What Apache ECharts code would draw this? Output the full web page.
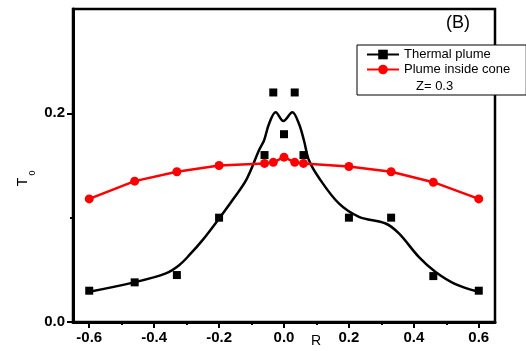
<!DOCTYPE html>
<html>
<head>
<meta charset="utf-8">
<script src="https://cdn.jsdelivr.net/npm/echarts@6/dist/echarts.min.js"></script>
<style>
  html, body { margin: 0; padding: 0; background: #fff; }
  #chart { width: 526px; height: 351px; }
</style>
</head>
<body>
<div id="chart"></div>
<script>
// Radial positions R and measured temperatures T0
const radius = [-0.6, -0.46, -0.33, -0.2, -0.06, -0.033, 0, 0.033, 0.06, 0.2, 0.33, 0.46, 0.6];
const thermalPlume = [0.03, 0.038, 0.045, 0.1, 0.16, 0.22, 0.18, 0.22, 0.16, 0.1, 0.1, 0.044, 0.03];
const plumeInsideCone = [0.118, 0.135, 0.144, 0.150, 0.152, 0.153, 0.158, 0.153, 0.152, 0.149, 0.144, 0.134, 0.118];

// Smoothed fit through the thermal plume measurements
const fitR = [-0.6, -0.462, -0.364, -0.323, -0.292, -0.251, -0.2, -0.159, -0.115, -0.077, -0.0615, -0.046, -0.0255,
              -0.002, 0.0255, 0.046, 0.0615, 0.077, 0.108, 0.169, 0.231, 0.313, 0.354, 0.415, 0.467, 0.528, 0.6];
const fitT = [0.029, 0.038, 0.0466, 0.0545, 0.064, 0.0785, 0.0992, 0.1167, 0.137, 0.1646, 0.174, 0.190, 0.201,
              0.1926, 0.201, 0.190, 0.174, 0.155, 0.138, 0.1136, 0.1008, 0.0944, 0.0849, 0.0625, 0.048, 0.0364, 0.029];

const xMajor = [-0.6, -0.4, -0.2, 0, 0.2, 0.4, 0.6];
const xMinor = [-0.5, -0.3, -0.1, 0.1, 0.3, 0.5];
const yMajor = [0, 0.2];
const yMinor = [0.1];

const zip = (a, b) => a.map((v, i) => [v, b[i]]);
const font = 'Liberation Sans, Arial, sans-serif';
const tickLabel = { color: '#000', fontFamily: font, fontWeight: 'bold', fontSize: 15 };

const chart = echarts.init(document.getElementById('chart'), null, { renderer: 'canvas' });
chart.setOption({
  animation: false,
  backgroundColor: '#fff',
  grid: { left: 73, right: 31, top: 9, bottom: 29, show: true, borderColor: '#000', borderWidth: 2.5 },
  xAxis: [
    {
      type: 'value', min: -0.65, max: 0.65, position: 'bottom',
      axisLine: { onZero: false, lineStyle: { color: '#000', width: 3 } },
      axisTick: { customValues: xMajor, length: 6, lineStyle: { color: '#000', width: 2 } },
      axisLabel: Object.assign({ customValues: xMajor, margin: 8, formatter: v => v.toFixed(1) }, tickLabel),
      splitLine: { show: false }
    },
    {
      type: 'value', min: -0.65, max: 0.65, position: 'bottom', offset: 0,
      axisLine: { show: false, onZero: false },
      axisTick: { customValues: xMinor, length: 3, lineStyle: { color: '#000', width: 2 } },
      axisLabel: { show: false },
      splitLine: { show: false }
    }
  ],
  yAxis: [
    {
      type: 'value', min: 0, max: 0.3, position: 'left',
      axisLine: { show: true, onZero: false, lineStyle: { color: '#000', width: 3 } },
      axisTick: { show: true, customValues: yMajor, length: 6, lineStyle: { color: '#000', width: 2 } },
      axisLabel: Object.assign({ customValues: yMajor, margin: 8, formatter: v => v.toFixed(1) }, tickLabel),
      splitLine: { show: false }
    },
    {
      type: 'value', min: 0, max: 0.3, position: 'left', offset: 0,
      axisLine: { show: false, onZero: false },
      axisTick: { show: true, customValues: yMinor, length: 3, lineStyle: { color: '#000', width: 2 } },
      axisLabel: { show: false },
      splitLine: { show: false }
    }
  ],
  legend: {
    data: ['Thermal plume', 'Plume inside cone'],
    orient: 'vertical', left: 357, top: 45,
    padding: [3, 16, 19, 9], itemGap: 2,
    itemWidth: 32, itemHeight: 12,
    backgroundColor: '#fff', borderColor: '#000', borderWidth: 1, borderRadius: 0,
    textStyle: { color: '#000', fontFamily: font, fontSize: 13 },
    z: 10
  },
  graphic: [
    { type: 'text', left: 446, top: 14, z: 20,
      style: { text: '(B)', fontFamily: font, fontSize: 18, fill: '#000' } },
    { type: 'text', left: 416, top: 80, z: 20,
      style: { text: 'Z= 0.3', fontFamily: font, fontSize: 13, fill: '#000' } },
    { type: 'text', left: 311, top: 334,
      style: { text: 'R', fontFamily: font, fontSize: 14, fill: '#000' } },
    { type: 'text', x: 23, y: 182, rotation: Math.PI / 2,
      style: { text: 'T', fontFamily: font, fontSize: 14, fill: '#000', align: 'center', verticalAlign: 'middle' } },
    { type: 'text', x: 33, y: 173, rotation: Math.PI / 2,
      style: { text: '0', fontFamily: font, fontSize: 9, fill: '#000', align: 'center', verticalAlign: 'middle' } }
  ],
  series: [
    {
      name: 'Thermal plume', type: 'line', data: zip(fitR, fitT),
      smooth: 0.35, showSymbol: false, symbol: 'rect', symbolSize: 8,
      itemStyle: { color: '#000' },
      lineStyle: { color: '#000', width: 2.5 }, z: 2
    },
    {
      name: 'Thermal plume', type: 'scatter', data: zip(radius, thermalPlume),
      symbol: 'rect', symbolSize: 8,
      itemStyle: { color: '#000', opacity: 1 }, z: 3
    },
    {
      name: 'Plume inside cone', type: 'line', data: zip(radius, plumeInsideCone),
      symbol: 'circle', symbolSize: 9, showSymbol: true,
      itemStyle: { color: '#ff0000' },
      lineStyle: { color: '#ff0000', width: 2.5 }, z: 4
    }
  ]
});
</script>
</body>
</html>
